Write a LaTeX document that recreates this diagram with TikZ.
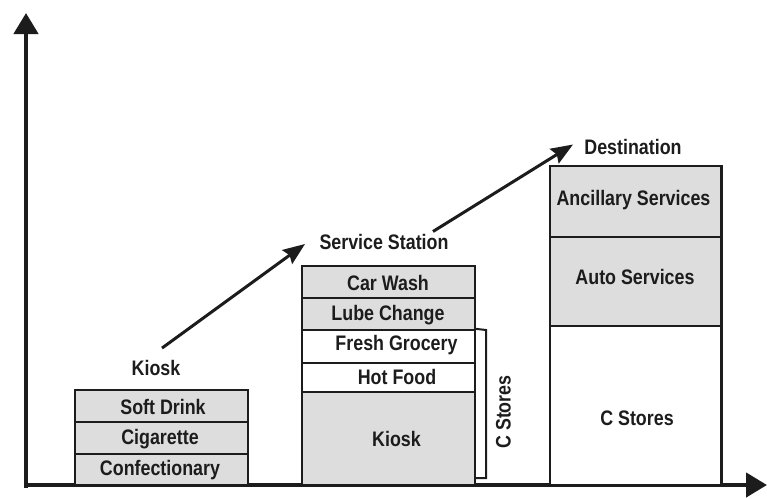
\documentclass[tikz,border=0pt]{standalone}
\usepackage{fontspec}
\setmainfont{Liberation Sans}[FakeStretch=0.85]
\usetikzlibrary{arrows.meta}
\definecolor{boxgray}{RGB}{221,221,221}
\definecolor{ink}{RGB}{28,28,28}
\begin{document}
\begin{tikzpicture}[x=1pt,y=-1pt,
  font=\fontsize{21}{23}\selectfont\bfseries,
  every node/.style={text=ink, inner sep=0pt},
  cell/.style={draw=ink, line width=2.3pt, rectangle},
  graycell/.style={cell, fill=boxgray},
  whitecell/.style={cell, fill=white},
  axis/.style={draw=ink, line width=4.5pt, -{Triangle[length=21pt,width=24pt]}},
  flow/.style={draw=ink, line width=3pt, -{Stealth[length=22pt,width=17pt,inset=3pt]}},
  tag/.style={text=ink}]
\useasboundingbox (0,0) rectangle (767,498);

% axes
\coordinate (origin) at (26,485);
\coordinate (ytop) at (26,13);
\coordinate (xend) at (767,485);
\draw[axis] ([yshift=-3pt]origin) -- (ytop);
\draw[axis] ([xshift=-2pt]origin) -- (xend);

% stage 1: kiosk
\node[graycell, minimum width=173pt, minimum height=32pt] (k1) at (161.5,406) {};
\node[graycell, minimum width=173pt, minimum height=32pt] (k2) at (161.5,438) {};
\node[graycell, minimum width=173pt, minimum height=31pt] (k3) at (161.5,469.5) {};
\node (k1t) at (163,407) {Soft Drink};
\node (k2t) at (160,439) {Cigarette};
\node (k3t) at (160,470) {Confectionary};
\node (klabel) at (156,368) {Kiosk};

% stage 2: service station
\node[graycell, minimum width=173pt, minimum height=32pt] (s1) at (388.3,282) {};
\node[graycell, minimum width=173pt, minimum height=32pt] (s2) at (388.3,314) {};
\node[whitecell, minimum width=173pt, minimum height=33pt] (s3) at (388.3,346.5) {};
\node[whitecell, minimum width=173pt, minimum height=29pt] (s4) at (388.3,377.5) {};
\node[graycell, minimum width=173pt, minimum height=93pt] (s5) at (388.3,438.5) {};
\node (s1t) at (388,283) {Car Wash};
\node (s2t) at (388,315) {Lube Change};
\node (s3t) at (396.5,345.5) {Fresh Grocery};
\node (s4t) at (397,377) {Hot Food};
\node (s5t) at (396.5,438.5) {Kiosk};
\node (slabel) at (384,242) {Service Station};

% bracket grouping the c-store rows
\coordinate (bt) at (486,330);
\coordinate (bb) at (486,478);
\draw[ink, line width=2pt] (s3.north east) -- (bt) -- (bb) -- (bb -| s5.east);
\node[rotate=90] (cst) at (503.5,412) {C Stores};

% stage 3: destination
\node[graycell, minimum width=171.5pt, minimum height=71pt] (d1) at (635.8,201.5) {};
\node[graycell, minimum width=171.5pt, minimum height=89pt] (d2) at (635.8,281.5) {};
\node[whitecell, minimum width=171.5pt, minimum height=159pt] (d3) at (635.8,405.5) {};
\node (d1t) at (633.5,200.5) {Ancillary Services};
\node (d2t) at (635,277) {Auto Services};
\node (d3t) at (637,418) {C Stores};
\node (dlabel) at (633,147) {Destination};

% growth arrows between the stages
\coordinate (a1s) at ([shift={(6pt,12pt)}]klabel.north);
\coordinate (a1e) at (305,244);
\coordinate (a2s) at (433,231.5);
\coordinate (a2e) at (573,144.5);
\draw[flow] (a1s) -- (a1e);
\draw[flow] (a2s) -- (a2e);
\end{tikzpicture}
\end{document}
